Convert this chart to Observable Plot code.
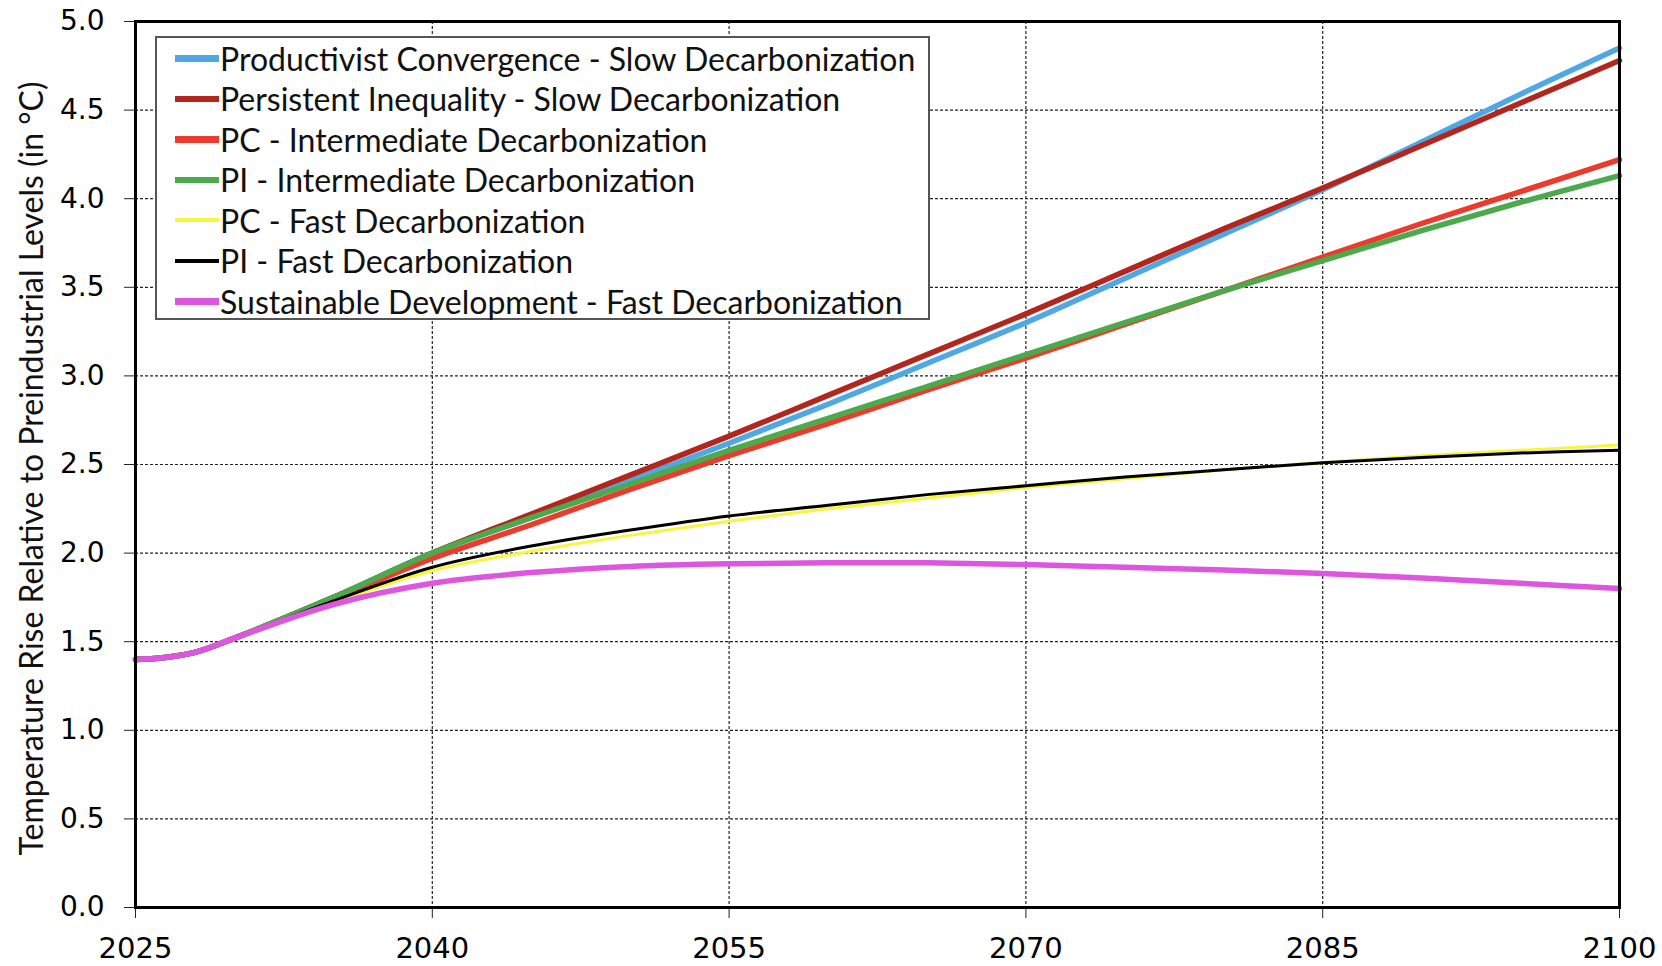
<!DOCTYPE html>
<html>
<head>
<meta charset="utf-8">
<script src="https://cdn.jsdelivr.net/npm/d3@7"></script>
<script src="https://cdn.jsdelivr.net/npm/@observablehq/plot@0.6"></script>
<style>
  html, body { margin: 0; padding: 0; background: #fff; }
  #wrap { position: relative; width: 1662px; height: 966px; }
  #legend {
    position: absolute; left: 155px; top: 36px; width: 775px; height: 284px;
    border: 2px solid #555; background: #fff; box-sizing: border-box;
    font-family: Lato, sans-serif; font-size: 32px; color: #111;
    padding-top: 0px;
  }
  .row { display: flex; align-items: center; height: 40.5px; white-space: nowrap; }
  .sw { width: 44px; margin-left: 18px; margin-right: 1px; }
</style>
</head>
<body>
<div id="wrap"><div id="chart"></div><div id="legend"></div></div>
<script>
const years = [2025, 2026, 2028, 2030, 2035, 2040, 2045, 2050, 2055, 2060, 2065, 2070, 2075, 2080, 2085, 2090, 2095, 2100];

const seriesNames = [
  "Productivist Convergence - Slow Decarbonization",
  "Persistent Inequality - Slow Decarbonization",
  "PC - Intermediate Decarbonization",
  "PI - Intermediate Decarbonization",
  "PC - Fast Decarbonization",
  "PI - Fast Decarbonization",
  "Sustainable Development - Fast Decarbonization"
];
const seriesColors = ["#4fa8e6", "#b3261e", "#ec3a2c", "#4caa4c", "#f7f53c", "#000000", "#de55e0"];
const seriesWidths = [5.5, 5.5, 5.5, 5.5, 3, 3, 5.5];

const pcSlow   = [1.40, 1.405, 1.44, 1.52, 1.75, 2.00, 2.20, 2.41, 2.62, 2.84, 3.07, 3.30, 3.55, 3.80, 4.05, 4.32, 4.59, 4.85];
const piSlow   = [1.40, 1.405, 1.44, 1.52, 1.75, 2.00, 2.22, 2.44, 2.66, 2.89, 3.12, 3.35, 3.59, 3.83, 4.06, 4.30, 4.54, 4.78];
const pcInter  = [1.40, 1.405, 1.44, 1.52, 1.74, 1.97, 2.16, 2.36, 2.55, 2.73, 2.92, 3.10, 3.29, 3.48, 3.67, 3.86, 4.04, 4.22];
const piInter  = [1.40, 1.405, 1.44, 1.52, 1.75, 2.00, 2.20, 2.39, 2.58, 2.76, 2.94, 3.12, 3.30, 3.48, 3.65, 3.82, 3.98, 4.13];
const pcFast   = [1.40, 1.405, 1.44, 1.52, 1.72, 1.90, 2.01, 2.10, 2.18, 2.25, 2.31, 2.37, 2.42, 2.47, 2.51, 2.55, 2.58, 2.61];
const piFast   = [1.40, 1.405, 1.44, 1.52, 1.73, 1.92, 2.04, 2.13, 2.21, 2.27, 2.33, 2.38, 2.43, 2.47, 2.51, 2.54, 2.565, 2.58];
const sdFast   = [1.40, 1.405, 1.44, 1.52, 1.71, 1.83, 1.89, 1.925, 1.94, 1.945, 1.945, 1.935, 1.92, 1.905, 1.885, 1.86, 1.83, 1.80];

const allSeries = [pcSlow, piSlow, pcInter, piInter, pcFast, piFast, sdFast];

const xTicks = [2025, 2040, 2055, 2070, 2085, 2100];
const yTicks = [0, 0.5, 1, 1.5, 2, 2.5, 3, 3.5, 4, 4.5, 5];
const yLabel = "Temperature Rise Relative to Preindustrial Levels (in °C)";

const data = [];
allSeries.forEach((vals, i) => {
  vals.forEach((v, j) => data.push({series: seriesNames[i], idx: i, year: years[j], value: v}));
});

const lineMarks = seriesNames.map((name, i) =>
  Plot.line(data.filter(d => d.idx === i), {
    x: "year", y: "value", stroke: seriesColors[i], strokeWidth: seriesWidths[i], curve: "catmull-rom"
  })
);

const chart = Plot.plot({
  width: 1662,
  height: 966,
  marginLeft: 135,
  marginRight: 43,
  marginTop: 21,
  marginBottom: 59,
  style: {background: "#fff"},
  x: {domain: [2025, 2100]},
  y: {domain: [0, 5]},
  marks: [
    Plot.gridX(xTicks, {stroke: "#222", strokeOpacity: 1, strokeWidth: 1.2, strokeDasharray: "3,2"}),
    Plot.gridY(yTicks, {stroke: "#222", strokeOpacity: 1, strokeWidth: 1.2, strokeDasharray: "3,2"}),
    Plot.axisX(xTicks, {tickFormat: d3.format("d"), tickSize: 11, tickPadding: 19, fontSize: 29, fontFamily: "DejaVu Sans", label: null, stroke: "#222"}),
    Plot.axisY(yTicks, {tickFormat: d3.format(".1f"), tickSize: 11, tickPadding: 20, fontSize: 28, fontFamily: "DejaVu Sans", label: null, stroke: "#222"}),
    Plot.text([yLabel], {frameAnchor: "left", textAnchor: "middle", rotate: -90, dx: -103, dy: 4, fontSize: 32, fontFamily: "Lato", fill: "#111"}),
    ...lineMarks,
    Plot.frame({stroke: "#000", strokeWidth: 3})
  ]
});
document.getElementById("chart").appendChild(chart);

const legend = document.getElementById("legend");
seriesNames.forEach((name, i) => {
  const row = document.createElement("div");
  row.className = "row";
  const sw = document.createElement("div");
  sw.className = "sw";
  sw.style.height = (seriesWidths[i] + 1) + "px";
  sw.style.background = seriesColors[i];
  const t = document.createElement("span");
  t.textContent = name;
  row.appendChild(sw); row.appendChild(t);
  legend.appendChild(row);
});
</script>
</body>
</html>
